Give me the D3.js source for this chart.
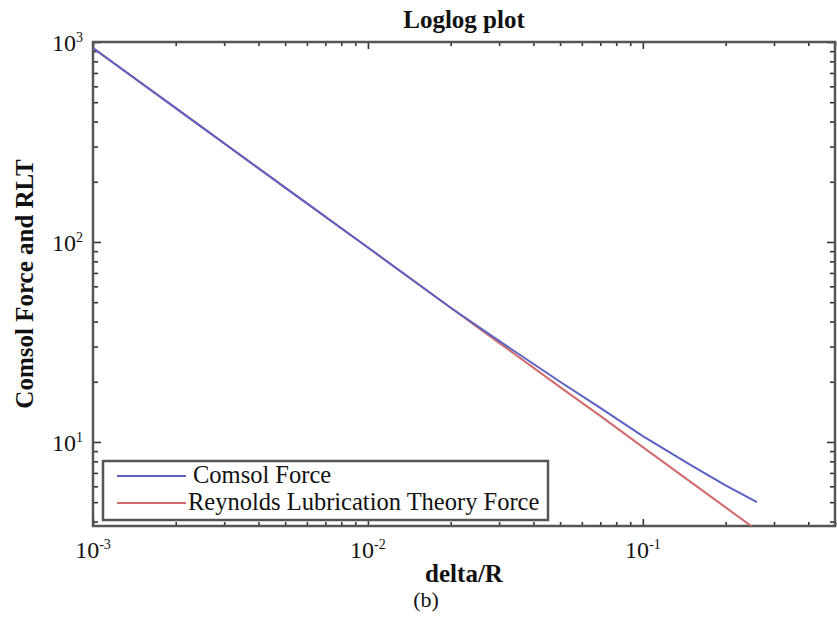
<!DOCTYPE html>
<html>
<head>
<meta charset="utf-8">
<script src="https://cdn.jsdelivr.net/npm/d3@7"></script>
<style>
  html, body { margin: 0; padding: 0; background: #fff; }
  svg text, svg tspan { font-family: "Liberation Serif", "Times New Roman", "DejaVu Serif", serif; }
</style>
</head>
<body>
<svg id="chart" width="837" height="617"></svg>
<script>
// ---- data ----
const deltaR      = [0.001, 0.002, 0.005, 0.01, 0.02, 0.03, 0.05, 0.07, 0.1, 0.15, 0.2, 0.26];
const comsolForce = [933, 467, 187, 93.8, 46.9, 32.0, 20.0, 14.8, 10.7, 7.64, 6.07, 5.0];
const rltForce    = [933, 467, 187, 93.8, 46.9, 31.3, 18.8, 13.5, 9.42, 6.28, 4.71, 3.62];
const seriesNames = ["Comsol Force", "Reynolds Lubrication Theory Force"];
const xMajorTicks = [1e-3, 1e-2, 1e-1];
const xTickExps   = ["-3", "-2", "-1"];
const yMajorTicks = [10, 100, 1000];
const yTickExps   = ["1", "2", "3"];
const xDomain = [1e-3, 0.5];
const yDomain = [3.8, 1000];

// ---- layout ----
const FONT = "'Liberation Serif', 'Times New Roman', 'DejaVu Serif', serif";
const L = 93, R = 835, T = 42, B = 526;
const svg = d3.select("#chart");
const x = d3.scaleLog().domain(xDomain).range([L, R]);
const y = d3.scaleLog().domain(yDomain).range([B, T]);

const axisColor = "#555";
const colors = ["#5c62c4", "#d26b6e"];

svg.append("defs").append("clipPath").attr("id", "clip")
  .append("rect").attr("x", L).attr("y", T).attr("width", R - L).attr("height", B - T);

const xMinor = x.ticks().filter(v => !xMajorTicks.some(m => Math.abs(m - v) / m < 1e-9));
const yMinor = y.ticks().filter(v => !yMajorTicks.some(m => Math.abs(m - v) / m < 1e-9));

function styleAxis(g) {
  g.select(".domain").remove();
  g.selectAll(".tick line").attr("stroke", "#333").attr("stroke-width", 1.6);
  g.selectAll(".tick text").remove();
}
const axes = [
  [d3.axisBottom, "translate(0," + B + ")", x, xMinor, -4],
  [d3.axisBottom, "translate(0," + B + ")", x, xMajorTicks, -7],
  [d3.axisTop, "translate(0," + T + ")", x, xMinor, -4],
  [d3.axisTop, "translate(0," + T + ")", x, xMajorTicks, -7],
  [d3.axisLeft, "translate(" + L + ",0)", y, yMinor, -5],
  [d3.axisLeft, "translate(" + L + ",0)", y, yMajorTicks, -8],
  [d3.axisRight, "translate(" + R + ",0)", y, yMinor, -5],
  [d3.axisRight, "translate(" + R + ",0)", y, yMajorTicks, -8]
];
axes.forEach(([fn, tr, sc, vals, size]) => {
  svg.append("g").attr("transform", tr)
    .call(fn(sc).tickValues(vals).tickSize(size).tickFormat(""))
    .call(styleAxis);
});

svg.append("rect").attr("x", L).attr("y", T).attr("width", R - L).attr("height", B - T)
  .attr("fill", "none").attr("stroke", axisColor).attr("stroke-width", 2.5);

const line = d3.line().x(d => x(d[0])).y(d => y(d[1]));
const seriesData = [comsolForce, rltForce];
const plot = svg.append("g").attr("clip-path", "url(#clip)");
[1, 0].forEach(i => {
  plot.append("path")
    .datum(deltaR.map((d, j) => [d, seriesData[i][j]]))
    .attr("d", line)
    .attr("fill", "none")
    .attr("stroke", colors[i])
    .attr("stroke-width", 2);
});

function powLabel(sel, exp) {
  sel.append("tspan").attr("font-family", FONT).text("10");
  sel.append("tspan").attr("font-family", FONT).attr("font-size", 14).attr("dy", -9).text(exp);
}
xMajorTicks.forEach((v, i) => {
  const t = svg.append("text").attr("x", x(v)).attr("y", 558).attr("font-family", FONT)
    .attr("text-anchor", "middle").attr("font-size", 24).attr("fill", "#111");
  powLabel(t, xTickExps[i]);
});
yMajorTicks.forEach((v, i) => {
  const t = svg.append("text").attr("x", 83).attr("y", y(v) + 9).attr("font-family", FONT)
    .attr("text-anchor", "end").attr("font-size", 24).attr("fill", "#111");
  powLabel(t, yTickExps[i]);
});

svg.append("text").attr("x", (L + R) / 2).attr("y", 28).attr("text-anchor", "middle").attr("font-family", FONT)
  .attr("font-size", 25).attr("font-weight", "bold").attr("fill", "#111").text("Loglog plot");
svg.append("text").attr("x", (L + R) / 2).attr("y", 582).attr("text-anchor", "middle").attr("font-family", FONT)
  .attr("font-size", 25).attr("font-weight", "bold").attr("fill", "#111").text("delta/R");
svg.append("text").attr("transform", "translate(33," + ((T + B) / 2) + ") rotate(-90)").attr("font-family", FONT)
  .attr("text-anchor", "middle").attr("font-size", 25).attr("font-weight", "bold")
  .attr("fill", "#111").text("Comsol Force and RLT");
svg.append("text").attr("x", 426).attr("y", 607).attr("text-anchor", "middle").attr("font-family", FONT)
  .attr("font-size", 22).attr("fill", "#111").text("(b)");

const lg = svg.append("g");
lg.append("rect").attr("x", 103).attr("y", 461).attr("width", 445).attr("height", 59)
  .attr("fill", "#fff").attr("stroke", axisColor).attr("stroke-width", 2.5);
seriesNames.forEach((name, i) => {
  const yy = 476 + i * 27;
  lg.append("line").attr("x1", 117).attr("x2", 186).attr("y1", yy).attr("y2", yy)
    .attr("stroke", colors[i]).attr("stroke-width", 2);
  lg.append("text").attr("x", i === 0 ? 193 : 188).attr("y", yy + 7).attr("font-family", FONT)
    .attr("font-size", 24.5).attr("fill", "#111").text(name);
});
</script>
</body>
</html>
